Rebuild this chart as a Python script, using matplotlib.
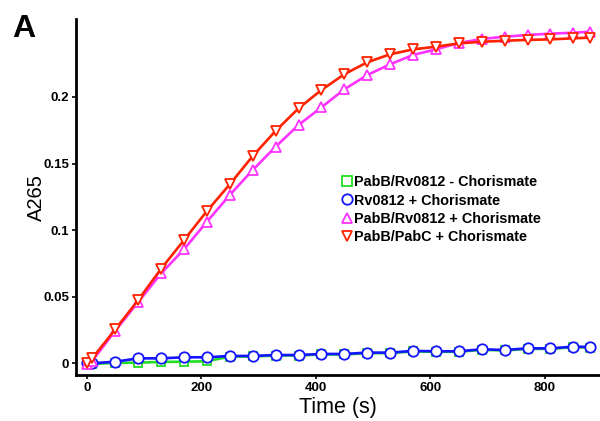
import matplotlib
matplotlib.use("Agg")
import matplotlib.pyplot as plt
from matplotlib.lines import Line2D

plt.rcParams['font.family'] = ['Liberation Sans', 'DejaVu Sans']

time_s = [0, 10, 50, 90, 130, 170, 210, 250, 290, 330, 370, 410, 450, 490,
          530, 570, 610, 650, 690, 730, 770, 810, 850, 880]

pabb_rv0812_minus = [-0.0005, -0.0005, 0.0003, 0.0005, 0.0010, 0.0012, 0.0015, 0.0050,
                     0.0051, 0.0058, 0.0058, 0.0066, 0.0066, 0.0076, 0.0076, 0.0089,
                     0.0086, 0.0086, 0.0101, 0.0096, 0.0108, 0.0108, 0.0121, 0.0118]
rv0812_plus = [0.0, 0.0, 0.0012, 0.0037, 0.0037, 0.0045, 0.0045, 0.0055, 0.0055, 0.0062,
               0.0062, 0.0070, 0.0070, 0.0080, 0.0080, 0.0093, 0.0090, 0.0090, 0.0105,
               0.0100, 0.0112, 0.0112, 0.0125, 0.0122]
pabb_rv0812_plus = [-0.0005, 0.002, 0.0245, 0.046, 0.0675, 0.0856, 0.1063, 0.1264, 0.1451,
                    0.1626, 0.1789, 0.1922, 0.2057, 0.2164, 0.2245, 0.2315, 0.2357, 0.2405,
                    0.2435, 0.2452, 0.2465, 0.2475, 0.2482, 0.2490]
pabb_pabc_plus = [0.0, 0.004, 0.0255, 0.0475, 0.071, 0.0925, 0.1143, 0.1344, 0.1556,
                  0.1745, 0.1914, 0.2052, 0.2170, 0.2260, 0.2320, 0.2357, 0.2377, 0.2402,
                  0.2414, 0.2422, 0.2428, 0.2432, 0.2440, 0.2445]

labels = ['PabB/Rv0812 - Chorismate', 'Rv0812 + Chorismate',
          'PabB/Rv0812 + Chorismate', 'PabB/PabC + Chorismate']
colors = ['#22dd22', '#1414ff', '#ff33ff', '#ff2200']
markers = ['s', 'o', '^', 'v']
msizes = [6.0, 7.5, 7.5, 7.5]
series = [pabb_rv0812_minus, rv0812_plus, pabb_rv0812_plus, pabb_pabc_plus]
x_ticks = [0, 200, 400, 600, 800]
y_ticks = [0, 0.05, 0.1, 0.15, 0.2]
y_ticklabels = ['0', '0.05', '0.1', '0.15', '0.2']

fig = plt.figure(figsize=(6.0, 4.21), dpi=100)
ax = fig.add_axes([76/600, 1-375/421, 1-76/600, (375-19)/421])

for ys, c, m, ms in zip(series, colors, markers, msizes):
    ax.plot(time_s, ys, color=c, lw=1.9, marker=m, ms=ms, mfc='white', mec=c, mew=1.3)

ax.set_xlim(-18.7, 896.6)
ax.set_ylim(-0.0088, 0.2585)
ax.set_xticks(x_ticks)
ax.set_xticklabels([str(t) for t in x_ticks])
ax.set_yticks(y_ticks)
ax.set_yticklabels(y_ticklabels)
for s in ['top', 'right']:
    ax.spines[s].set_visible(False)
for s in ['left', 'bottom']:
    ax.spines[s].set_linewidth(2)
ax.tick_params(direction='out', length=3, width=1.2, pad=2, labelsize=9.5)
for lab in ax.get_xticklabels() + ax.get_yticklabels():
    lab.set_fontweight('bold')

handles = [Line2D([], [], color=c, marker=m, ls='none', ms=7.5, mfc='white', mec=c, mew=1.3)
           for c, m in zip(colors, markers)]
leg = ax.legend(handles, labels, loc='upper left', bbox_to_anchor=(341/600, 1-175.5/421),
                bbox_transform=fig.transFigure, frameon=False, borderpad=0,
                borderaxespad=0, handlelength=0.8, handletextpad=0.1, labelspacing=0.28,
                prop={'weight': 'bold', 'size': 10.4})

fig.text(36.7/600, 1-198/421, 'A265', rotation=90, ha='center', va='center', fontsize=14.5)
fig.text(338/600, 1-408/421, 'Time (s)', ha='center', va='center', fontsize=15.5)
fig.text(12/600, 1-14/421, 'A', ha='left', va='top', fontsize=23, fontweight='bold')

fig.savefig('out.png', dpi=100)
